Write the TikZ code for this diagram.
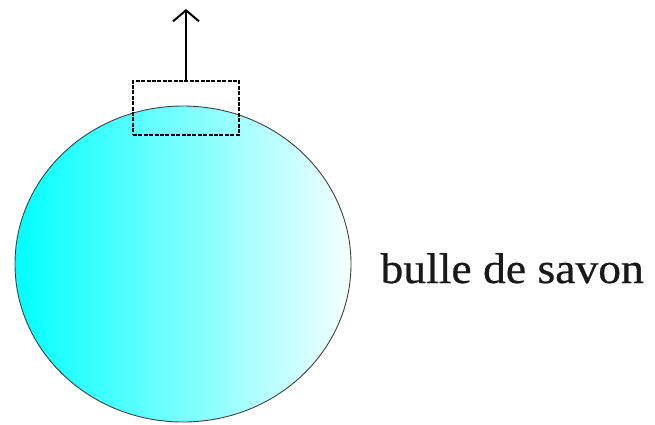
\documentclass[tikz,border=0pt]{standalone}
\usepackage{fontspec}
\setmainfont{Liberation Serif}
\newfontfamily\bullefont[FakeStretch=1.06, FakeBold=0.6]{Liberation Serif}
\usetikzlibrary{positioning,arrows.meta,calc,shapes.geometric}
\tikzset{
  % --- bubble and probe --------------------------------------------------
  bubble/.style  ={ellipse, draw=black!75, line width=0.9pt, shading=axis,
                   left color=cyan, right color=cyan!4, shading angle=90,
                   minimum width=336pt, minimum height=316pt, inner sep=0},
  probe/.style   ={rectangle, draw, line width=2.6pt,
                   dash pattern=on 4pt off 1.4pt,
                   minimum width=106pt, minimum height=54pt, inner sep=0},
  % --- arrows / text -----------------------------------------------------
  arrow/.style   ={-{Straight Barb[length=11pt, width=26pt, line width=2pt]},
                   line width=2pt},
  lab/.style     ={font=\bullefont\fontsize{43}{50}\selectfont, text=black!90},
}

\begin{document}
\begin{tikzpicture}[x=1pt, y=-1pt]
  \useasboundingbox (0,0) rectangle (655,424);

  % ============================= bubble =============================
  \node[bubble] (bulle) at (183,264) {};
  \node[lab, anchor=base west] (nom) at (377,283) {bulle de savon};

  % ============================= probe box + arrow =============================
  \node[probe] (zone) at (186,108) {};
  \coordinate (haut) at (186,9);
  \draw[arrow] (zone.north) -- (haut);

\end{tikzpicture}
\end{document}
